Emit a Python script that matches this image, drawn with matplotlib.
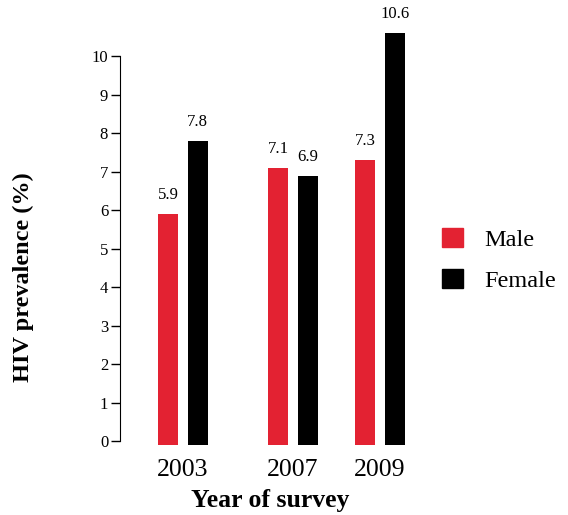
import matplotlib
matplotlib.use("Agg")
import matplotlib.pyplot as plt
from matplotlib.patches import Patch

plt.rcParams['font.family'] = ['Liberation Serif', 'DejaVu Serif']

years = ["2003", "2007", "2009"]
male = [5.9, 7.1, 7.3]
female = [7.8, 6.9, 10.6]

# group centres (the original spacing is not even)
x_pos = [0, 1, 1.79]
width = 0.18
offset = 0.135

red = '#e32232'
black = '#000000'

fig = plt.figure(figsize=(5.68, 5.15), dpi=100)
ax = fig.add_axes([120/568, 70/515, 300/568, 427/515])

base = -0.1
for i in range(len(years)):
    ax.bar(x_pos[i] - offset, male[i] - base, width, bottom=base, color=red)
    ax.bar(x_pos[i] + offset, female[i] - base, width, bottom=base, color=black)
    ax.annotate(str(male[i]), (x_pos[i] - offset, male[i]), xytext=(0, 8),
                textcoords='offset points', ha='center', va='bottom', fontsize=12)
    ax.annotate(str(female[i]), (x_pos[i] + offset, female[i]), xytext=(0, 8),
                textcoords='offset points', ha='center', va='bottom', fontsize=12)

ax.set_xlim(-0.573, 2.155)
ax.set_ylim(base, 11)
ax.set_yticks(range(0, 11))
ax.tick_params(axis='y', length=6.5, width=1, labelsize=12, pad=2)
ax.set_xticks(x_pos)
ax.set_xticklabels(years, fontsize=18.5)
ax.tick_params(axis='x', length=0, pad=10)

for s in ['top', 'right', 'bottom']:
    ax.spines[s].set_visible(False)
ax.spines['left'].set_bounds(0, 10)

ax.set_xlabel('Year of survey', fontsize=18.5, fontweight='bold', labelpad=6)
fig.text(23/568, 1 - 277/515, 'HIV prevalence (%)', rotation=90, ha='center', va='center',
         fontsize=17.5, fontweight='bold')

handles = [Patch(color=red, label='Male'), Patch(color=black, label='Female')]
fig.legend(handles=handles, loc='center left', bbox_to_anchor=(420/568, 1 - 260/515),
           frameon=False, fontsize=17.5, handlelength=0.85, handleheight=0.85,
           handletextpad=0.9, labelspacing=0.75)

plt.savefig('out.png')
